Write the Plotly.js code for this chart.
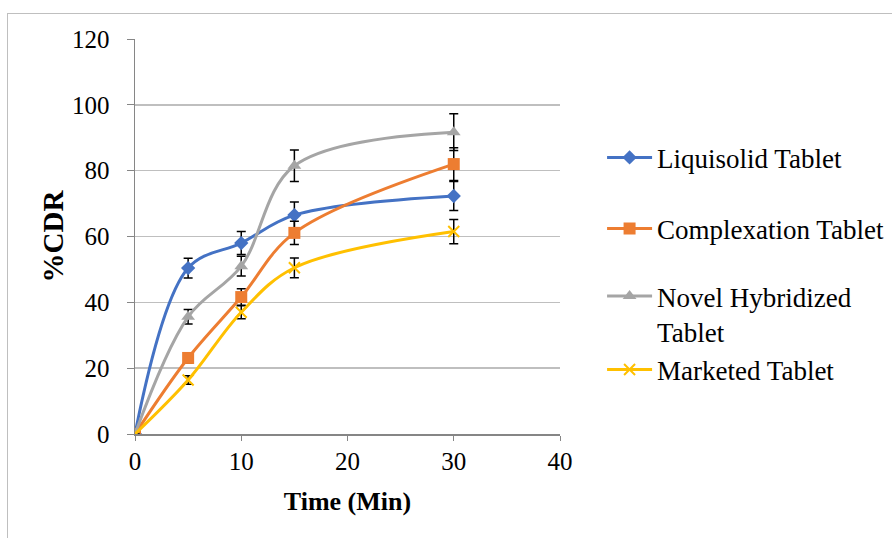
<!DOCTYPE html>
<html>
<head>
<meta charset="utf-8">
<script src="https://cdn.plot.ly/plotly-3.0.1.min.js"></script>
<style>
html,body{margin:0;padding:0;background:#fff;}
#frame{position:absolute;left:7px;top:13px;width:900px;height:600px;border:1px solid #bfbfbf;box-sizing:border-box;}
#chart{position:absolute;left:0;top:0;width:892px;height:538px;}
</style>
</head>
<body>
<div id="frame"></div>
<div id="chart"></div>
<script>
const time = [0, 5, 10, 15, 30];
const seriesNames = ["Liquisolid Tablet", "Complexation Tablet", "Novel Hybridized<br>Tablet", "Marketed Tablet"];
const liquisold = [0, 50.4, 58.0, 66.5, 72.3];
const liquisoldErr = [0, 3.0, 3.5, 4.0, 4.4];
const complexation = [0, 23.1, 41.6, 61.1, 82.0];
const complexationErr = [0, 1.5, 2.5, 3.5, 5.0];
const hybridized = [0, 35.6, 51.0, 81.5, 91.7];
const hybridizedErr = [0, 2.2, 3.0, 4.8, 5.6];
const marketed = [0, 16.4, 37.0, 50.5, 61.5];
const marketedErr = [0, 1.3, 2.0, 3.0, 3.7];

const colors = ["#4472C4", "#ED7D31", "#A5A5A5", "#FFC000"];
const symbols = ["diamond", "square", "triangle-up", "x-thin-open"];
const sizes = [11, 12, 12, 11];
const ys = [liquisold, complexation, hybridized, marketed];
const errs = [liquisoldErr, complexationErr, hybridizedErr, marketedErr];
const legendIds = ["legend", "legend2", "legend3", "legend4"];

const traces = ys.map((y, i) => ({
  x: time, y: y, name: seriesNames[i], type: "scatter", mode: "lines+markers",
  legend: legendIds[i],
  line: {color: colors[i], width: 3, shape: "spline", smoothing: 1},
  marker: {symbol: symbols[i], size: sizes[i], color: colors[i], line: {color: colors[i], width: i === 3 ? 2 : 0}},
  error_y: {type: "data", array: errs[i], visible: true, color: "#000", thickness: 1.5, width: 4.5}
}));

const SERIF = "Liberation Serif";
function f(size, weight) { return {family: SERIF, size: size, color: "#000", weight: weight || "normal"}; }

function leg(y, extra) {
  return Object.assign({x: 1.099, y: y, xanchor: "left", yanchor: "middle", font: f(27),
    itemwidth: 45, bgcolor: "rgba(0,0,0,0)", borderwidth: 0}, extra || {});
}

const layout = {
  width: 892, height: 538,
  margin: {l: 135, r: 332, t: 39, b: 104, autoexpand: false},
  paper_bgcolor: "rgba(0,0,0,0)", plot_bgcolor: "rgba(0,0,0,0)",
  font: f(25),
  showlegend: true,
  legend: leg(0.699),
  legend2: leg(0.519),
  legend3: leg(0.304, {valign: "top"}),
  legend4: leg(0.162),
  xaxis: {range: [0, 40], dtick: 10, tick0: 0, showgrid: false, zeroline: false,
          showline: true, linecolor: "#868686", linewidth: 1.5,
          ticks: "outside", ticklen: 5, tickcolor: "#868686", tickfont: f(25),
          ticklabelstandoff: -1,
          title: {text: "Time (Min)", font: f(26, "bold"), standoff: 18}},
  yaxis: {range: [0, 120], dtick: 20, tick0: 0, showgrid: true, gridcolor: "#BFBFBF", gridwidth: 1.5,
          zeroline: false, showline: true, linecolor: "#868686", linewidth: 1.5,
          ticks: "outside", ticklen: 7, tickcolor: "#868686", tickfont: f(25),
          ticklabelstandoff: 12,
          title: {text: "%CDR", font: f(29, "bold"), standoff: 0}}
};
Plotly.newPlot("chart", traces, layout, {displayModeBar: false, staticPlot: true});
</script>
</body>
</html>
